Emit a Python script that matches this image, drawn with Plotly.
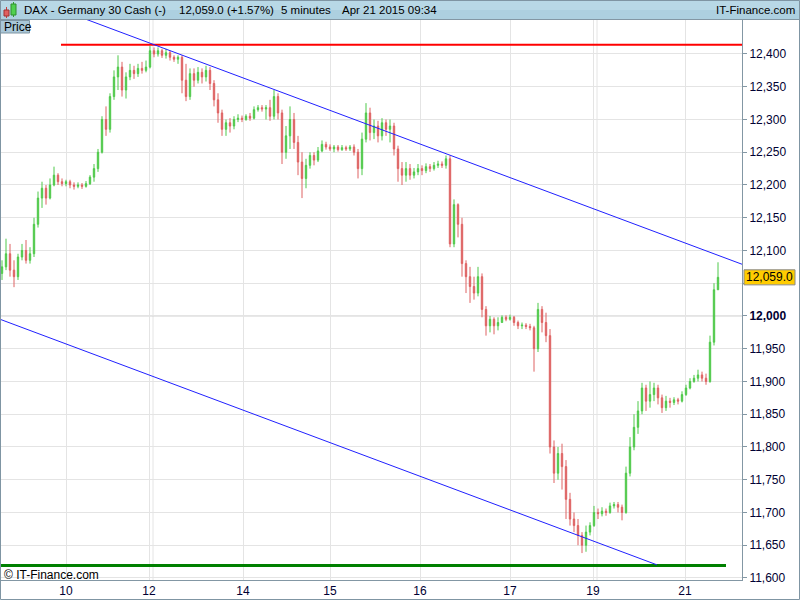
import plotly.graph_objects as go

# ---------------- data ----------------
opens = [12065, 12075, 12095, 12070, 12060, 12090, 12100, 12085, 12095, 12140,
         12180, 12195, 12180, 12200, 12215, 12205, 12202, 12205, 12200, 12198,
         12200, 12198, 12202, 12212, 12225, 12250, 12300, 12285, 12335, 12365,
         12380, 12345, 12365, 12375, 12370, 12378, 12375, 12380, 12405, 12400,
         12405, 12398, 12402, 12395, 12392, 12395, 12360, 12335, 12370, 12360,
         12372, 12365, 12375, 12355, 12330, 12310, 12285, 12295, 12290, 12300,
         12302, 12300, 12305, 12302, 12315, 12318, 12316, 12318, 12305, 12335,
         12310, 12250, 12275, 12300, 12265, 12235, 12210, 12230, 12245, 12238,
         12252, 12262, 12258, 12255, 12258, 12254, 12257, 12255, 12258, 12250,
         12225, 12270, 12310, 12280, 12290, 12275, 12295, 12285, 12290, 12255,
         12225, 12215, 12225, 12215, 12220, 12225, 12222, 12228, 12225, 12230,
         12232, 12230, 12240, 12110, 12170, 12140, 12080, 12060, 12045, 12035,
         12060, 12010, 11985, 11995, 11985, 11990, 11998, 11995, 11998, 11990,
         11985, 11986, 11984, 11982, 11950, 12010, 11990, 11970, 11800, 11760,
         11790, 11770, 11720, 11690, 11680, 11665, 11650, 11670, 11680, 11700,
         11698, 11702, 11700, 11710, 11712, 11708, 11700, 11760, 11800, 11830,
         11855, 11890, 11870, 11880, 11890, 11875, 11860, 11870, 11868, 11872,
         11870, 11880, 11890, 11900, 11905, 11910, 11905, 11900, 11960, 12040]
highs = [12085, 12118, 12110, 12085, 12095, 12110, 12116, 12105, 12150, 12190,
         12205, 12200, 12210, 12228, 12218, 12210, 12208, 12208, 12204, 12204,
         12203, 12206, 12215, 12232, 12255, 12305, 12320, 12340, 12375, 12398,
         12388, 12372, 12385, 12382, 12385, 12388, 12390, 12412, 12410, 12410,
         12408, 12408, 12405, 12398, 12398, 12398, 12385, 12378, 12378, 12380,
         12378, 12382, 12380, 12360, 12340, 12315, 12300, 12302, 12305, 12308,
         12306, 12308, 12310, 12320, 12322, 12322, 12322, 12330, 12345, 12340,
         12315, 12290, 12320, 12310, 12275, 12250, 12240, 12250, 12250, 12258,
         12268, 12266, 12262, 12261, 12261, 12261, 12260, 12261, 12262, 12255,
         12280, 12325, 12318, 12300, 12298, 12302, 12300, 12300, 12295, 12260,
         12235, 12235, 12232, 12226, 12232, 12230, 12233, 12232, 12235, 12237,
         12236, 12245, 12245, 12178, 12172, 12150, 12085, 12075, 12060, 12075,
         12065, 12015, 12000, 11998, 11998, 12001, 12001, 12002, 12000, 11993,
         11990, 11989, 11988, 11985, 12020, 12015, 12005, 11980, 11810, 11800,
         11805, 11780, 11730, 11700, 11690, 11670, 11680, 11685, 11710, 11706,
         11708, 11706, 11715, 11716, 11716, 11712, 11770, 11815, 11850, 11870,
         11898, 11895, 11900, 11898, 11895, 11880, 11878, 11875, 11876, 11875,
         11885, 11895, 11905, 11910, 11918, 11915, 11912, 11970, 12050, 12082]
lows = [12055, 12070, 12060, 12044, 12055, 12085, 12080, 12080, 12090, 12135,
        12165, 12170, 12178, 12198, 12200, 12198, 12198, 12195, 12193, 12195,
        12194, 12196, 12200, 12205, 12220, 12248, 12275, 12280, 12330, 12345,
        12335, 12332, 12360, 12362, 12365, 12370, 12372, 12378, 12395, 12396,
        12394, 12393, 12390, 12388, 12385, 12340, 12328, 12330, 12350, 12355,
        12355, 12358, 12345, 12320, 12295, 12275, 12275, 12280, 12285, 12296,
        12296, 12298, 12298, 12300, 12312, 12312, 12300, 12298, 12300, 12300,
        12232, 12240, 12255, 12255, 12215, 12180, 12195, 12225, 12230, 12235,
        12250, 12254, 12252, 12250, 12251, 12252, 12252, 12252, 12245, 12210,
        12215, 12265, 12268, 12270, 12265, 12268, 12275, 12265, 12245, 12205,
        12200, 12205, 12208, 12210, 12215, 12215, 12218, 12220, 12222, 12226,
        12226, 12225, 12105, 12105, 12120, 12060, 12035, 12020, 12025, 12030,
        11998, 11970, 11975, 11972, 11978, 11990, 11992, 11993, 11985, 11980,
        11980, 11980, 11978, 11915, 11945, 11975, 11960, 11790, 11745, 11750,
        11735, 11690, 11680, 11670, 11650, 11638, 11640, 11665, 11678, 11690,
        11694, 11695, 11698, 11706, 11700, 11688, 11698, 11755, 11795, 11820,
        11850, 11855, 11860, 11870, 11865, 11852, 11855, 11860, 11864, 11865,
        11868, 11878, 11888, 11898, 11900, 11900, 11895, 11898, 11955, 12040]
closes = [12075, 12095, 12070, 12060, 12090, 12100, 12085, 12095, 12140, 12180,
          12195, 12180, 12200, 12215, 12205, 12202, 12205, 12200, 12198, 12200,
          12198, 12202, 12212, 12225, 12250, 12300, 12285, 12335, 12365, 12380,
          12345, 12365, 12375, 12370, 12378, 12375, 12380, 12405, 12400, 12405,
          12398, 12402, 12395, 12392, 12395, 12360, 12335, 12370, 12360, 12372,
          12365, 12375, 12355, 12330, 12310, 12285, 12295, 12290, 12300, 12302,
          12300, 12305, 12302, 12315, 12318, 12316, 12318, 12305, 12335, 12310,
          12250, 12275, 12300, 12265, 12235, 12210, 12230, 12245, 12238, 12252,
          12262, 12258, 12255, 12258, 12254, 12257, 12255, 12258, 12250, 12225,
          12270, 12310, 12280, 12290, 12275, 12295, 12285, 12290, 12255, 12225,
          12215, 12225, 12215, 12220, 12225, 12222, 12228, 12225, 12230, 12232,
          12230, 12240, 12110, 12170, 12140, 12080, 12060, 12045, 12035, 12060,
          12010, 11985, 11995, 11985, 11990, 11998, 11995, 11998, 11990, 11985,
          11986, 11984, 11982, 11950, 12010, 11990, 11970, 11800, 11760, 11790,
          11770, 11720, 11690, 11680, 11665, 11650, 11670, 11680, 11700, 11698,
          11702, 11700, 11710, 11712, 11708, 11700, 11760, 11800, 11830, 11855,
          11890, 11870, 11880, 11890, 11875, 11860, 11870, 11868, 11872, 11870,
          11880, 11890, 11900, 11905, 11910, 11905, 11900, 11960, 12040, 12059]

day_labels = ["10", "12", "14", "15", "16", "17", "19", "21"]
day_start_bars = [16, 36.75, 60.25, 82, 104.5, 127, 147.75, 170.75]
week_break_bars = [37.75, 148.75]

price_tick_vals = [11600, 11650, 11700, 11750, 11800, 11850, 11900, 11950, 12000,
                   12050, 12100, 12150, 12200, 12250, 12300, 12350, 12400]
# 12,050 sits under the last-price tag, as in the reference
price_tick_text = ["11,600", "11,650", "11,700", "11,750", "11,800", "11,850", "11,900",
                   "11,950", "<b>12,000</b>", "", "12,100", "12,150", "12,200",
                   "12,250", "12,300", "12,350", "12,400"]

resistance_level = 12414
resistance_start_bar = 14.75
support_level = 11619
support_end_bar = 181
upper_channel = [(14.0, 12469), (185.0, 12079)]
lower_channel = [(-0.5, 11995), (163.75, 11620)]

last_price_text = "12,059.0"
header_title = "DAX - Germany 30 Cash (-)"
header_change = "12,059.0 (+1.57%)"
header_period = "5 minutes"
header_time = "Apr 21 2015 09:34"

# ---------------- figure ----------------
W, H = 800, 600
ML, MR, MT, MB = 0, 58, 20, 20
PW, PH = W - ML - MR, H - MT - MB
X_RANGE = [-0.5, 185]
Y_RANGE = [11596.9, 12451.9]


def px_x(p):
    return (p - ML) / PW


def px_y(p):
    return (H - MB - p) / PH


bars = list(range(len(closes)))

fig = go.Figure()
fig.add_trace(go.Candlestick(
    x=bars, open=opens, high=highs, low=lows, close=closes,
    increasing=dict(line=dict(color="#4FC94A", width=1), fillcolor="#4FC94A"),
    decreasing=dict(line=dict(color="#DE6262", width=1), fillcolor="#DE6262"),
    whiskerwidth=0, hoverinfo="skip", showlegend=False,
))

shapes = []
grid_c = "#E4E4E4"
for b in week_break_bars:
    shapes.append(dict(type="line", xref="x", yref="paper", x0=b, x1=b, y0=0, y1=1,
                       line=dict(color=grid_c, width=1), layer="below"))
shapes.append(dict(type="line", xref="paper", yref="y", x0=0, x1=1, y0=12000, y1=12000,
                   line=dict(color="#CFCFCF", width=1), layer="below"))
shapes.append(dict(type="line", xref="x", yref="y", x0=resistance_start_bar, x1=X_RANGE[1],
                   y0=resistance_level, y1=resistance_level,
                   line=dict(color="#FF0000", width=2)))
shapes.append(dict(type="line", xref="x", yref="y", x0=X_RANGE[0], x1=support_end_bar,
                   y0=support_level, y1=support_level,
                   line=dict(color="#008000", width=3)))
for (a, b) in (upper_channel, lower_channel):
    shapes.append(dict(type="line", xref="x", yref="y", x0=a[0], y0=a[1], x1=b[0], y1=b[1],
                       line=dict(color="#2020FF", width=1)))
# header bar
shapes.append(dict(type="rect", xref="paper", yref="paper", x0=px_x(0), x1=px_x(W),
                   y0=px_y(MT), y1=px_y(0), fillcolor="#ADD0E0", line=dict(width=0)))
shapes.append(dict(type="rect", xref="paper", yref="paper", x0=px_x(0), x1=px_x(W),
                   y0=px_y(10), y1=px_y(0), fillcolor="#B8D8E6", line=dict(width=0)))
shapes.append(dict(type="line", xref="paper", yref="paper", x0=px_x(0), x1=px_x(W),
                   y0=px_y(MT - 0.5), y1=px_y(MT - 0.5), line=dict(color="#8397A4", width=1)))
# candle icon in header
shapes.append(dict(type="line", xref="paper", yref="paper", x0=px_x(6.5), x1=px_x(6.5),
                   y0=px_y(18), y1=px_y(7), line=dict(color="#C83C3C", width=1)))
shapes.append(dict(type="rect", xref="paper", yref="paper", x0=px_x(4), x1=px_x(9),
                   y0=px_y(16), y1=px_y(10), fillcolor="#E06060", line=dict(color="#A03030", width=1)))
shapes.append(dict(type="line", xref="paper", yref="paper", x0=px_x(13.5), x1=px_x(13.5),
                   y0=px_y(17), y1=px_y(2), line=dict(color="#2E9E2E", width=1)))
shapes.append(dict(type="rect", xref="paper", yref="paper", x0=px_x(11), x1=px_x(16),
                   y0=px_y(15), y1=px_y(4), fillcolor="#50D050", line=dict(color="#2E8E2E", width=1)))
# "Price" box
shapes.append(dict(type="rect", xref="paper", yref="paper", x0=px_x(0), x1=px_x(29.5),
                   y0=px_y(33), y1=px_y(20.5), fillcolor="#A9C7D8", line=dict(color="#7F95A3", width=1)))
# last price tag
shapes.append(dict(type="rect", xref="paper", yref="y", x0=px_x(744), x1=px_x(795),
                   y0=closes[-1] - 11.5, y1=closes[-1] + 11.5, fillcolor="#FFCC00",
                   line=dict(color="#8A8A8A", width=1)))
# outer frame
shapes.append(dict(type="rect", xref="paper", yref="paper", x0=px_x(0.5), x1=px_x(W - 0.5),
                   y0=px_y(H - 0.5), y1=px_y(0.5), line=dict(color="#7F95A3", width=1)))

annotations = []
hfont = dict(family="Liberation Sans, Arial", size=11.5, color="#000000")
for txt, x0 in ((header_title, 22), (header_change, 177), (header_period, 279), (header_time, 340)):
    annotations.append(dict(text=txt, xref="paper", yref="paper", x=px_x(x0), y=px_y(10.5),
                            xanchor="left", yanchor="middle", showarrow=False, font=hfont))
annotations.append(dict(text="IT-Finance.com", xref="paper", yref="paper", x=px_x(797), y=px_y(10.5),
                        xanchor="right", yanchor="middle", showarrow=False, font=hfont))
annotations.append(dict(text="Price", xref="paper", yref="paper", x=px_x(2), y=px_y(27),
                        xanchor="left", yanchor="middle", showarrow=False,
                        font=dict(family="Liberation Sans, Arial", size=12, color="#000000")))
annotations.append(dict(text="© IT-Finance.com", xref="paper", yref="paper", x=px_x(2), y=px_y(575),
                        xanchor="left", yanchor="middle", showarrow=False,
                        font=dict(family="Liberation Sans, Arial", size=12, color="#000000")))
annotations.append(dict(text=last_price_text, xref="paper", yref="y", x=px_x(769.5), y=closes[-1],
                        xanchor="center", yanchor="middle", showarrow=False,
                        font=dict(family="Liberation Sans, Arial", size=12, color="#000000")))

fig.update_layout(
    width=W, height=H,
    margin=dict(l=ML, r=MR, t=MT, b=MB, autoexpand=False),
    paper_bgcolor="#FFFFFF", plot_bgcolor="#FFFFFF",
    shapes=shapes, annotations=annotations,
    showlegend=False,
    boxgap=0.5,
    xaxis=dict(range=X_RANGE, rangeslider=dict(visible=False),
               tickmode="array", tickvals=day_start_bars, ticktext=day_labels,
               showgrid=True, gridcolor=grid_c, gridwidth=1, zeroline=False,
               showline=True, linecolor="#8397A4", linewidth=1,
               ticks="", tickfont=dict(family="Liberation Sans, Arial", size=12, color="#000033")),
    yaxis=dict(range=Y_RANGE, side="right", tickmode="array",
               tickvals=price_tick_vals, ticktext=price_tick_text,
               showgrid=True, gridcolor=grid_c, gridwidth=1, zeroline=False,
               showline=True, linecolor="#8397A4", linewidth=1,
               ticks="outside", ticklen=4, tickcolor="#8397A4",
               tickfont=dict(family="Liberation Sans, Arial", size=12, color="#000033")),
)

fig.write_html(
    "out.html",
    config={"displayModeBar": False},
    post_script="document.body.style.margin='0';document.body.style.overflow='hidden';",
)
